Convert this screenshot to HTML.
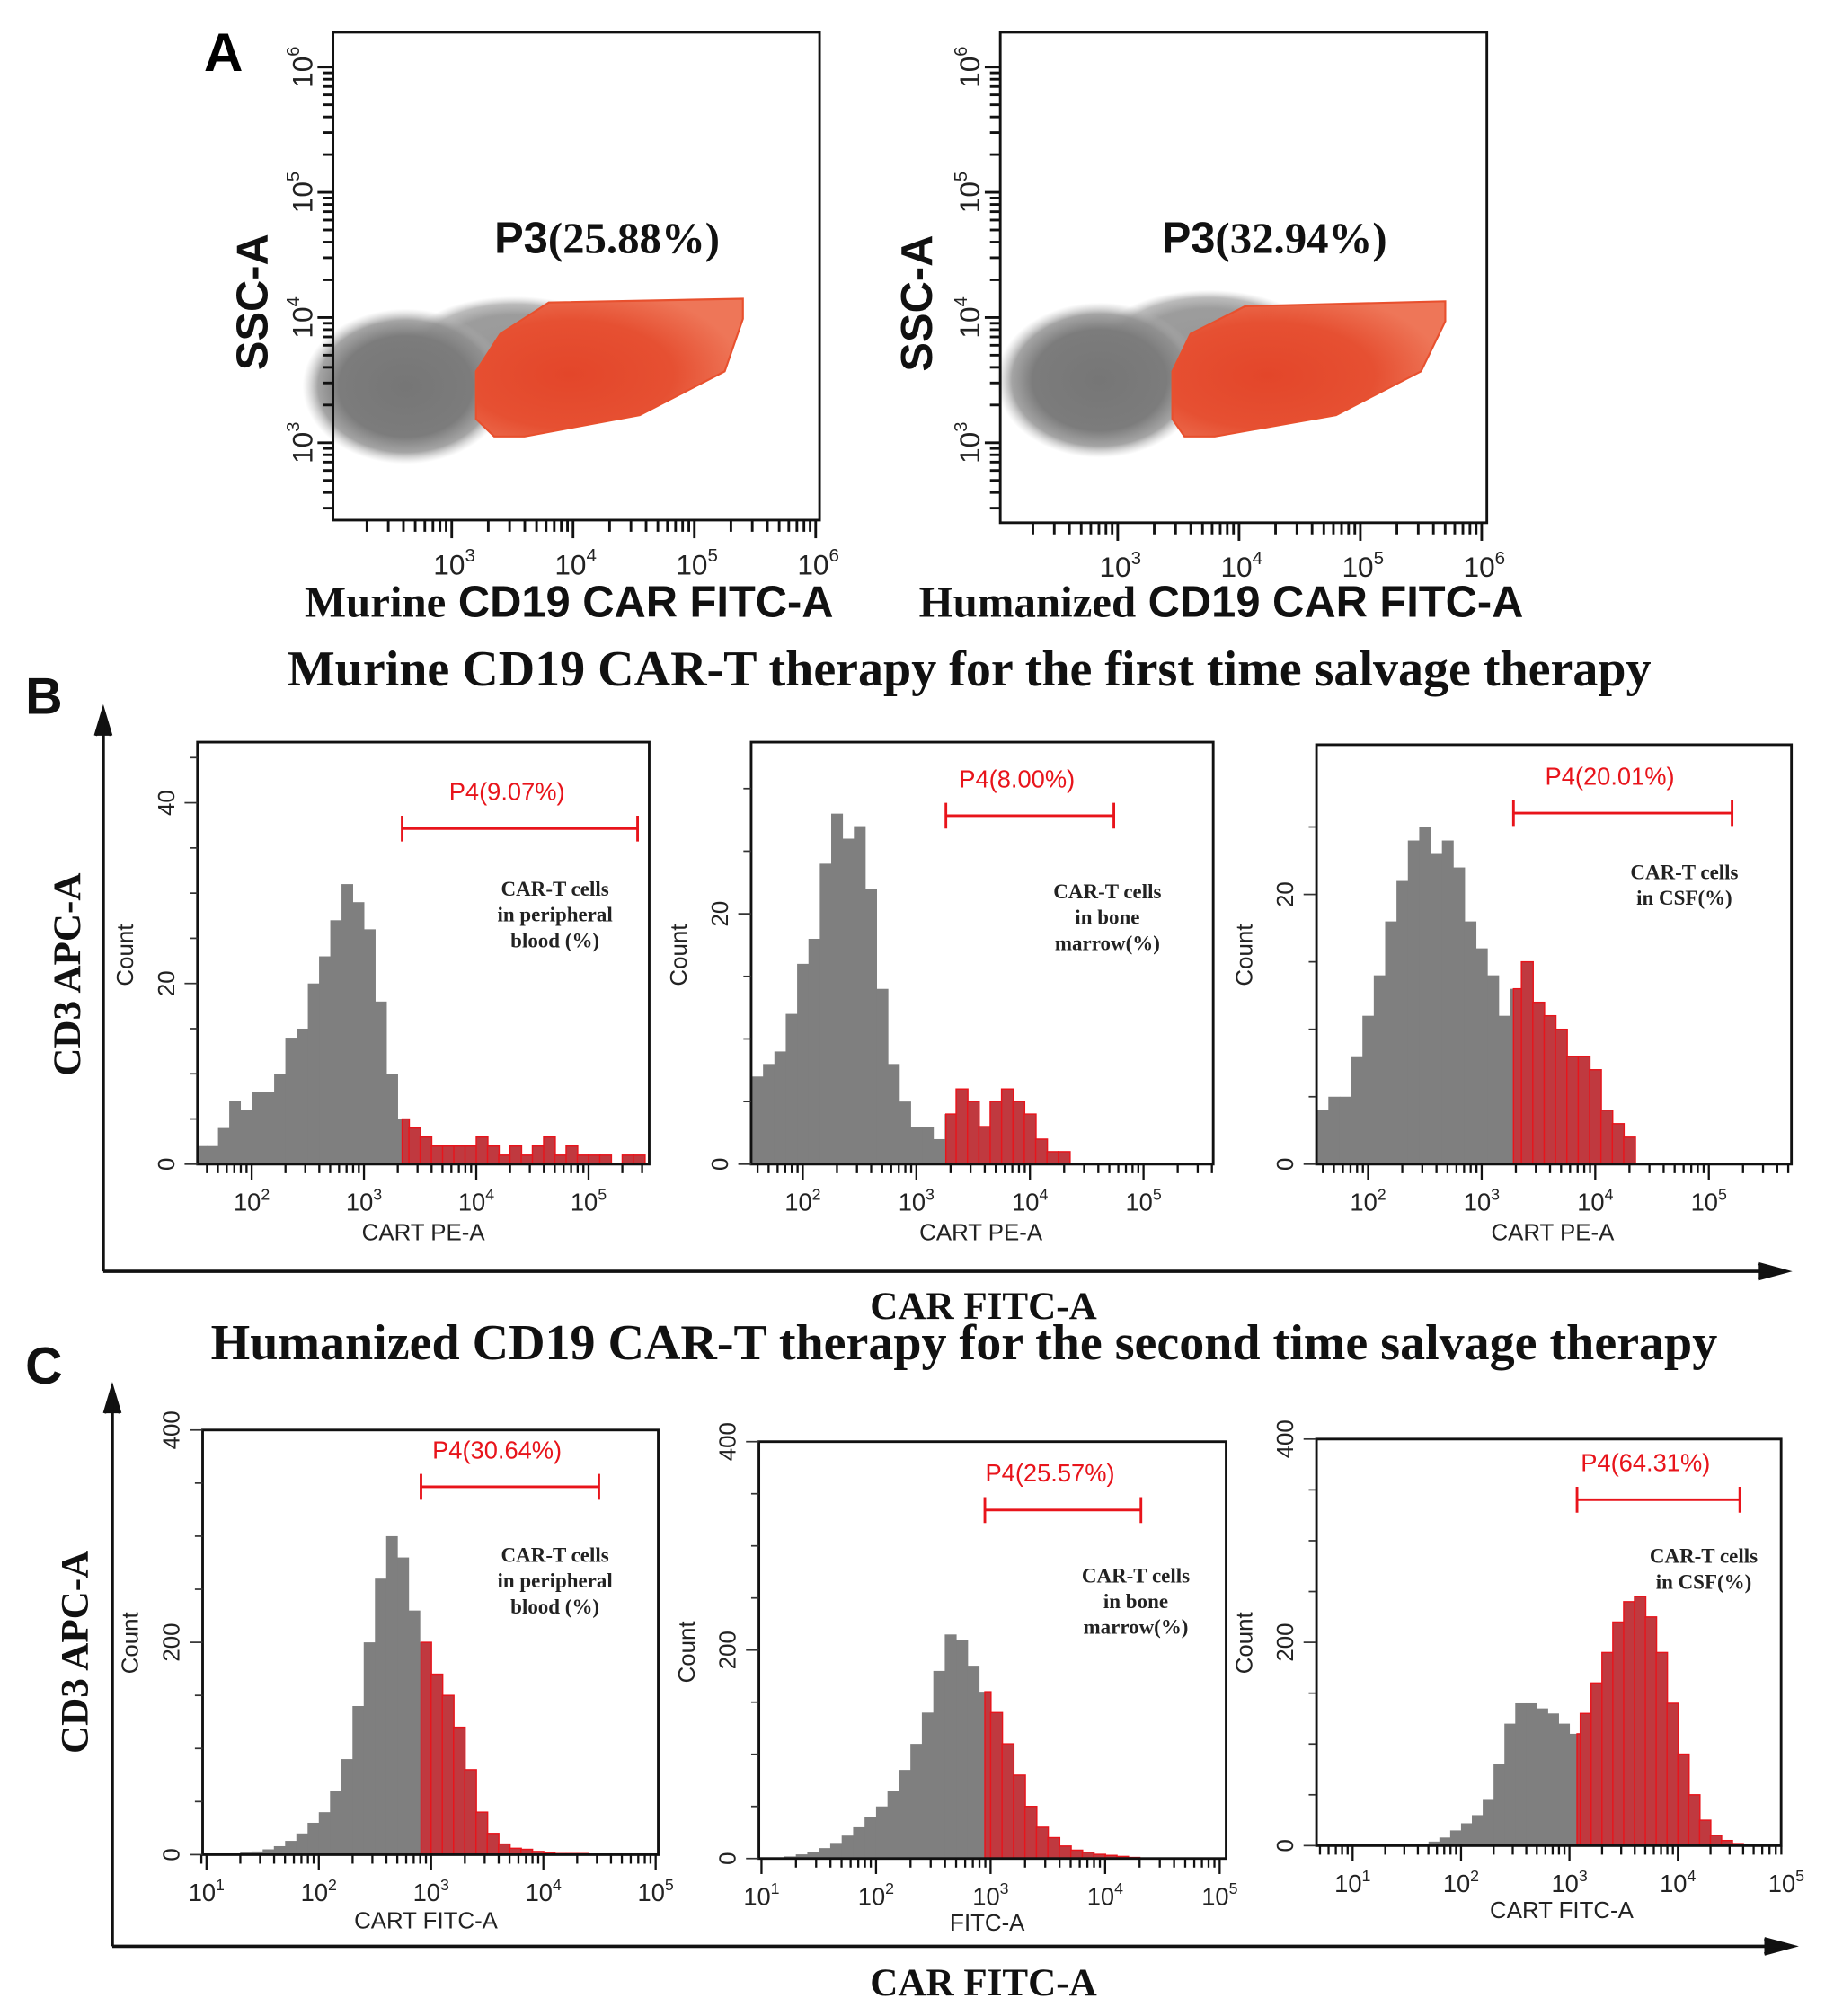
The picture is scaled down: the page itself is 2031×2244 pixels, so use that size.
<!DOCTYPE html>
<html><head><meta charset="utf-8"><style>
html,body{margin:0;padding:0;background:#fff}
svg{display:block}
.t{font-family:"Liberation Sans",sans-serif}
.s{font-family:"Liberation Serif",serif}
</style></head><body>
<svg id="fig" width="2031" height="2244" viewBox="0 0 1414 1562" preserveAspectRatio="none" xmlns="http://www.w3.org/2000/svg">
<defs>
<radialGradient id="gg" cx="50%" cy="50%" r="50%"><stop offset="0" stop-color="#767676"/><stop offset="0.65" stop-color="#7c7c7c"/><stop offset="0.85" stop-color="#8e8e8e" stop-opacity="0.8"/><stop offset="1" stop-color="#bbb" stop-opacity="0"/></radialGradient>
<radialGradient id="rg" cx="35%" cy="55%" r="65%"><stop offset="0" stop-color="#e3462a"/><stop offset="0.6" stop-color="#e65032"/><stop offset="1" stop-color="#ee7658"/></radialGradient>
</defs>
<g id="root"></g>
</svg>
<script>
// ---- Panel A gate / cloud (log10 coordinates) ----
const gateA1X=[3.2,3.4,3.8,5.4,5.4,5.25,4.55,3.6,3.35,3.2];
const gateA1Y=[3.57,3.87,4.12,4.15,3.99,3.57,3.22,3.05,3.05,3.19];
const gateA2X=[3.45,3.6,4.05,5.7,5.7,5.5,4.8,3.8,3.55,3.45];
const gateA2Y=[3.57,3.87,4.09,4.13,3.97,3.57,3.22,3.05,3.05,3.19];
// ---- Histogram series (counts per 0.1-decade bin) ----
const b1Start=1.5, b1Gate=3.34;
const b1Counts=[2,2,4,7,6,8,8,10,14,15,20,23,27,31,29,26,18,10,5,4,3,2,2,2,2,3,2,1,2,1,2,3,1,2,1,1,1,0,1,1];
const b2Start=1.55, b2Gate=3.26;
const b2Counts=[7,8,9,12,16,18,24,28,26,27,22,14,8,5,3,3,2,4,6,5,3,5,6,5,4,2,1,1,0];
const b3Start=1.55, b3Gate=3.28;
const b3Counts=[4,5,5,8,11,14,18,21,24,25,23,24,22,18,16,14,11,13,15,12,11,10,8,8,7,4,3,2,0];
const c1Start=1.0, c1Gate=2.91;
const c1Counts=[0,0,1,2,3,5,8,13,20,30,40,60,90,140,200,260,300,280,230,200,170,150,120,80,40,20,10,6,5,3,2,1,1,1,0,0,0,0,0,0];
const c2Start=1.0, c2Gate=2.95;
const c2Counts=[0,1,2,4,6,10,15,22,30,40,50,65,85,110,140,180,215,210,185,160,140,110,80,50,30,20,12,8,6,4,3,2,1,0,0,0,0,0,0,0];
const c3Start=1.0, c3Gate=3.07;
const c3Counts=[0,0,0,0,1,1,2,4,8,15,22,30,45,80,120,140,140,135,130,120,110,130,160,190,220,240,245,225,190,140,90,50,25,10,5,2,0,0,0,0];
const xTickExps=[1,2,3,4,5,6];

const NS="http://www.w3.org/2000/svg";
const root=document.getElementById('root');
function el(tag,attrs,parent,txt){const e=document.createElementNS(NS,tag);for(const k in attrs)e.setAttribute(k,attrs[k]);if(txt!==undefined)e.textContent=txt;(parent||root).appendChild(e);return e;}
function grp(name){const g=el('g',{});return g;}
function pow(g,x,y,base,exp,size,anchor,cls){const t=el('text',{x:x,y:y,'font-size':size,'text-anchor':anchor||'middle','class':cls||'t',fill:'#222'},g);t.textContent=base;el('tspan',{dy:-size*0.45,'font-size':size*0.65},t,String(exp));return t;}

// ------ Panel A ------
function scatterPanel(name,L,T,R,B,x0,xPer,y0,yPer,gx,gy,cx,cy,p3,p3x,xlabA,xlabB,xlabX,ssX){
  const g=grp(name);
  const X=v=>x0+(v-3)*xPer, Y=v=>y0-(v-3)*yPer;
  const cl2=el('ellipse',{cx:X(cx+0.9),cy:Y(cy+0.3),rx:xPer*0.9,ry:yPer*0.42,fill:'url(#gg)',opacity:0.75},g);
  
  const cl=el('ellipse',{cx:X(cx),cy:Y(cy),rx:xPer*0.85,ry:yPer*0.62,fill:'url(#gg)'},g);
  
  const pts=gx.map((v,i)=>X(v)+','+Y(gy[i])).join(' ');
  const pg=el('polygon',{points:pts,fill:'url(#rg)',stroke:'#e8502e','stroke-width':1.5},g);
  
  const fr=el('rect',{x:L,y:T,width:R-L,height:B-T,fill:'none',stroke:'#111','stroke-width':2},g);
  
  for(let d=2;d<=6;d++){for(let m=1;m<10;m++){const lv=d+Math.log10(m);
    const xx=X(lv);if(xx>L&&xx<=R+1)el('line',{x1:xx,y1:B,x2:xx,y2:B+(m==1?14:9),stroke:'#111','stroke-width':2},g);
    const yy=Y(lv);if(yy>=T&&yy<B)el('line',{x1:L,y1:yy,x2:L-(m==1?12:8),y2:yy,stroke:'#111','stroke-width':2},g);}}
  [3,4,5,6].forEach(e=>{pow(g,X(e)+2,B+42,'10',e,22);
    const t=el('text',{transform:`translate(${L-16},${Y(e)}) rotate(-90)`,'font-size':22,'text-anchor':'middle','class':'t',fill:'#222'},g);t.textContent='10';el('tspan',{dy:-10,'font-size':14},t,String(e));});
  const yl=el('text',{transform:`translate(${ssX},${(T+B)/2+20}) rotate(-90)`,'font-size':34,'font-weight':'bold','text-anchor':'middle','class':'t',fill:'#111'},g,'SSC-A');
  
  const pl=el('text',{x:p3x,y:196,'font-size':34,'font-weight':'bold','class':'s',fill:'#111'},g);
  
  el('tspan',{'class':'t'},pl,'P3');el('tspan',{},pl,p3);
  const xl=el('text',{x:xlabX,y:478,'font-size':34,'font-weight':'bold',fill:'#111'},g);
  
  el('tspan',{'class':'s'},xl,xlabA);el('tspan',{'class':'t'},xl,' '+xlabB);
}
const lblA=el('text',{x:158,y:55,'font-size':42,'font-weight':'bold','class':'t'},root,'A');

scatterPanel('panel-a-murine',258,25,635,403,350,94,343,97,gateA1X,gateA1Y,2.62,3.45,'(25.88%)',383,'Murine','CD19 CAR FITC-A',236,207);
scatterPanel('panel-a-humanized',775,25,1152,405,866,94,343,97,gateA2X,gateA2Y,2.85,3.5,'(32.94%)',900,'Humanized','CD19 CAR FITC-A',712,722);

// ------ histograms ------
function histPanel(name,o,start,counts,gate){
  const g=grp(name);
  const X=v=>o.x0+(v-o.e0)*o.xPer, Y=c=>o.B-c*o.yPer;
  const step=0.1;
  counts.forEach((c,i)=>{
    const a=start+i*step,b=a+step;
    if(c<=0)return;
    let xa=Math.max(X(a),o.L),xb=Math.min(X(b),o.R);if(xb<=xa)return;
    const segs=(a<gate&&b>gate)?[[xa,X(gate),false],[X(gate),xb,true]]:[[xa,xb,a>=gate]];
    segs.forEach(s=>{const r=el('rect',{x:s[0],y:Y(c),width:s[1]-s[0]+0.3,height:o.B-Y(c),fill:s[2]?o.red:'#7f7f7f',stroke:s[2]?'#e8141b':'none','stroke-width':s[2]?1:0},g);
      });
  });
  const fr=el('rect',{x:o.L,y:o.T,width:o.R-o.L,height:o.B-o.T,fill:'none',stroke:'#111','stroke-width':2},g);
  for(let d=0;d<=6;d++)for(let m=1;m<10;m++){const lv=d+Math.log10(m),xx=X(lv);if(xx>=o.L-1&&xx<=o.R+1)el('line',{x1:xx,y1:o.B,x2:xx,y2:o.B+(m==1?12:7),stroke:'#111','stroke-width':1.6},g);}
  xTickExps.forEach(e=>{const xx=X(e);if(xx>=o.L-8&&xx<=o.R+10)pow(g,xx,o.B+36,'10',e,19);});
  for(let v=0;v<=o.yMax;v+=o.yMinor){const yy=Y(v);if(yy>=o.T-2)el('line',{x1:o.L,y1:yy,x2:o.L-(v%o.yMajor==0?10:6),y2:yy,stroke:'#333','stroke-width':1.2},g);}
  for(let v=0;v<=o.yMax;v+=o.yMajor){const yy=Y(v);if(yy<o.T-2)continue;const t=el('text',{transform:`translate(${o.L-18},${yy}) rotate(-90)`,'font-size':18,'text-anchor':'middle','class':'t',fill:'#222'},g,String(v));}
  const ct=el('text',{transform:`translate(${o.L-50},${o.cY}) rotate(-90)`,'font-size':18,'text-anchor':'middle','class':'t',fill:'#222'},g,'Count');
  const xt=el('text',{x:o.xlX,y:o.xlY,'font-size':18,'text-anchor':'middle','class':'t',fill:'#222'},g,o.xl);
  const gx1=X(gate),gx2=o.gateEnd;
  const gl=el('path',{d:`M${gx1},${o.gY-10}V${o.gY+10}M${gx1},${o.gY}H${gx2}M${gx2},${o.gY-10}V${o.gY+10}`,stroke:'#e8141b','stroke-width':2,fill:'none'},g);
  
  const gt=el('text',{x:(gx1+gx2)/2-10,y:o.gY-22,'font-size':19,'text-anchor':'middle','class':'t',fill:'#e8141b'},g,o.p4);
  o.note.forEach((s,i)=>{const n=el('text',{x:o.nX,y:o.nY+i*20,'font-size':16,'font-weight':'bold','text-anchor':'middle','class':'s',fill:'#222'},g,s);});
}
function big(txt,x,y,size,name,rot,cls){const t=el('text',rot?{transform:`translate(${x},${y}) rotate(-90)`,'font-size':size,'font-weight':'bold','text-anchor':'middle','class':cls||'s',fill:'#111'}:{x:x,y:y,'font-size':size,'font-weight':'bold','text-anchor':'middle','class':cls||'s',fill:'#111'},root,txt);}

// Panel B
big('Murine CD19 CAR-T therapy for the first time salvage therapy',751,531,39,'panel-b-title');
big('B',34,553,40,'panel-b-label',false,'t');
el('path',{d:'M80,985V555M74,570L80,550L86,570M80,985H1378M1362,979L1384,985L1362,991',stroke:'#111','stroke-width':2.5,fill:'#111'});
big('CD3 APC-A',62,755,30,'panel-b-y-title',true);
big('CAR FITC-A',762,1022,30,'panel-b-x-title');
histPanel('hist-b-blood',{L:153,T:575,R:503,B:902,x0:195,e0:2,xPer:87,yPer:7,yMax:48,yMajor:20,yMinor:5,red:'#c0393f',cY:740,xl:'CART PE-A',xlX:328,xlY:961,gateEnd:494,gY:642,p4:'P4(9.07%)',note:['CAR-T cells','in peripheral','blood (%)'],nX:430,nY:694},b1Start,b1Counts,b1Gate);
histPanel('hist-b-marrow',{L:582,T:575,R:940,B:902,x0:622,e0:2,xPer:88,yPer:9.7,yMax:30,yMajor:20,yMinor:5,red:'#c0393f',cY:740,xl:'CART PE-A',xlX:760,xlY:961,gateEnd:863,gY:632,p4:'P4(8.00%)',note:['CAR-T cells','in bone','marrow(%)'],nX:858,nY:696},b2Start,b2Counts,b2Gate);
histPanel('hist-b-csf',{L:1020,T:577,R:1388,B:902,x0:1060,e0:2,xPer:88,yPer:10.45,yMax:28,yMajor:20,yMinor:5,red:'#c0393f',cY:740,xl:'CART PE-A',xlX:1203,xlY:961,gateEnd:1342,gY:630,p4:'P4(20.01%)',note:['CAR-T cells','in CSF(%)'],nX:1305,nY:681},b3Start,b3Counts,b3Gate);

// Panel C
big('Humanized CD19 CAR-T therapy for the second time salvage therapy',747,1053,39,'panel-c-title');
big('C',34,1072,40,'panel-c-label',false,'t');
el('path',{d:'M87,1508V1080M81,1095L87,1075L93,1095M87,1508H1383M1367,1502L1389,1508L1367,1514',stroke:'#111','stroke-width':2.5,fill:'#111'});
big('CD3 APC-A',68,1280,30,'panel-c-y-title',true);
big('CAR FITC-A',762,1546,30,'panel-c-x-title');
histPanel('hist-c-blood',{L:157,T:1108,R:510,B:1437,x0:160,e0:1,xPer:87,yPer:0.8225,yMax:400,yMajor:200,yMinor:50,red:'#c0393f',cY:1273,xl:'CART FITC-A',xlX:330,xlY:1494,gateEnd:464,gY:1152,p4:'P4(30.64%)',note:['CAR-T cells','in peripheral','blood (%)'],nX:430,nY:1210},c1Start,c1Counts,c1Gate);
histPanel('hist-c-marrow',{L:588,T:1117,R:950,B:1440,x0:590,e0:1,xPer:88.75,yPer:0.8075,yMax:400,yMajor:200,yMinor:50,red:'#c0393f',cY:1280,xl:'FITC-A',xlX:765,xlY:1496,gateEnd:884,gY:1170,p4:'P4(25.57%)',note:['CAR-T cells','in bone','marrow(%)'],nX:880,nY:1226},c2Start,c2Counts,c2Gate);
histPanel('hist-c-csf',{L:1020,T:1115,R:1380,B:1430,x0:1048,e0:1,xPer:84,yPer:0.7875,yMax:400,yMajor:200,yMinor:50,red:'#c0393f',cY:1273,xl:'CART FITC-A',xlX:1210,xlY:1486,gateEnd:1348,gY:1162,p4:'P4(64.31%)',note:['CAR-T cells','in CSF(%)'],nX:1320,nY:1211},c3Start,c3Counts,c3Gate);
</script>
</body></html>
